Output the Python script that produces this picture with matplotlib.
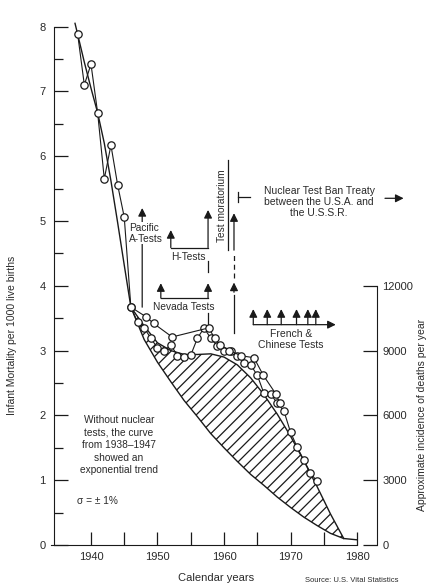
import matplotlib.pyplot as plt

plt.rcParams["font.family"] = ["Liberation Sans", "DejaVu Sans"]
plt.rcParams["hatch.linewidth"] = 0.9

# observed infant mortality, annual points (per 1000 live births, chart scale)
years_a = [1938, 1939, 1940, 1941, 1942, 1943, 1944, 1945, 1946, 1947, 1948,
           1949, 1950, 1951, 1952, 1953, 1954, 1955, 1956, 1957, 1958, 1959,
           1960, 1961, 1962, 1963, 1964, 1965, 1966, 1967, 1968, 1969, 1970,
           1971, 1972, 1973, 1974]
rate_a = [7.88, 7.10, 7.42, 6.67, 5.65, 6.17, 5.56, 5.06, 3.67, 3.44, 3.35,
          3.19, 3.04, 2.99, 3.09, 2.92, 2.90, 2.93, 3.19, 3.35, 3.19, 3.07,
          2.99, 2.99, 2.92, 2.81, 2.78, 2.62, 2.34, 2.33, 2.19, 2.07, 1.74,
          1.51, 1.31, 1.11, 0.98]

# second set of points (upper polyline)
years_b = [1946.0, 1948.3, 1949.4, 1952.2, 1957.7, 1958.6, 1959.4, 1960.8,
           1962.6, 1964.5, 1965.9, 1967.8, 1968.4]
rate_b = [3.67, 3.52, 3.42, 3.21, 3.35, 3.19, 3.09, 3.00, 2.92, 2.89, 2.62,
          2.33, 2.19]

# exponential trend 1938-1947 and its extension
trend_years = [1937.6, 1939, 1940, 1941, 1942, 1943, 1944, 1945]
trend_rate = [8.05, 7.45, 7.05, 6.67, 6.20, 5.62, 4.98, 4.32]
band_years = [1946, 1948, 1950, 1952, 1954, 1956, 1958, 1960, 1962, 1964,
              1966, 1968, 1970, 1972, 1974, 1976, 1978]
band_low = [3.67, 3.17, 2.82, 2.52, 2.23, 1.98, 1.72, 1.50, 1.29, 1.09,
            0.92, 0.74, 0.58, 0.43, 0.30, 0.18, 0.10]
band_high = [3.67, 3.38, 3.12, 3.00, 2.94, 2.94, 2.95, 2.90, 2.78, 2.58,
             2.32, 2.02, 1.68, 1.30, 0.90, 0.48, 0.10]
tail_years = [1978, 1980]
tail_rate = [0.10, 0.08]

# French & Chinese test years
fc_years = [1964.4, 1966.5, 1968.6, 1970.9, 1972.6, 1973.8]

ink = "#1a1a1a"
txt = "#2a2a2a"

fig = plt.figure(figsize=(4.33, 5.86), dpi=100)
ax = fig.add_axes([54 / 433, 41 / 586, 323 / 433, 531.4 / 586])
ax.set_xlim(1934.44, 1983.0)
ax.set_ylim(0, 8.2)

# hatched excess-mortality area
ax.fill_between(band_years, band_low, band_high, facecolor="none",
                edgecolor=ink, hatch="///", linewidth=0, zorder=1)
ax.plot(trend_years + band_years + tail_years[1:],
        trend_rate + band_low + tail_rate[1:], color=ink, lw=1.0, zorder=4)
ax.plot(band_years, band_high, color=ink, lw=1.0, zorder=4)

ax.plot(years_a, rate_a, color=ink, lw=0.8, marker="o", ms=5.3,
        mfc="white", mec=ink, mew=0.9, zorder=5)
ax.plot(years_b, rate_b, color=ink, lw=0.8, marker="o", ms=5.3,
        mfc="white", mec=ink, mew=0.9, zorder=5)

arrow = dict(arrowstyle="-|>", color=ink, lw=0.9, mutation_scale=12,
             shrinkA=0, shrinkB=0)


def up(x, y0, y1):
    ax.annotate("", xy=(x, y1), xytext=(x, y0), arrowprops=arrow, zorder=2)


box = dict(facecolor="white", edgecolor="none", pad=0.3)

# Pacific A-tests
up(1947.7, 3.67, 5.20)
ax.text(1945.7, 4.81, "Pacific\nA-Tests", fontsize=7.3, color=txt,
        ha="left", va="center", linespacing=1.1, bbox=box, zorder=3)

# H-tests
up(1952.0, 4.59, 4.86)
up(1957.6, 4.59, 5.17)
ax.plot([1952.0, 1957.6], [4.59, 4.59], color=ink, lw=0.9, zorder=2)
ax.plot([1957.6, 1957.6], [4.22, 4.38], color=ink, lw=0.9, zorder=2)
ax.text(1954.6, 4.44, "H-Tests", fontsize=7.3, color=txt, ha="center",
        va="center", zorder=3)

# Nevada tests
up(1950.5, 3.81, 4.04)
up(1957.6, 3.81, 4.04)
ax.plot([1950.5, 1957.6], [3.81, 3.81], color=ink, lw=0.9, zorder=2)
ax.plot([1957.6, 1957.6], [3.38, 3.58], color=ink, lw=0.9, zorder=2)
ax.text(1954.0, 3.67, "Nevada Tests", fontsize=7.3, color=txt, ha="center",
        va="center", zorder=3)

# test moratorium
ax.plot([1960.6, 1960.6], [4.55, 5.94], color=ink, lw=0.9)
ax.text(1959.75, 5.23, "Test moratorium", fontsize=7.3, color=txt,
        rotation=90, ha="center", va="center")
up(1961.5, 4.55, 5.12)
ax.plot([1961.5, 1961.5], [4.12, 4.47], color=ink, lw=0.9,
        linestyle=(0, (4, 3)))
up(1961.5, 3.90, 4.05)
ax.plot([1961.5, 1961.5], [3.27, 3.86], color=ink, lw=0.9)

# test ban treaty
ax.plot([1962.15, 1962.15], [5.29, 5.45], color=ink, lw=0.9)
ax.plot([1962.15, 1963.9], [5.37, 5.37], color=ink, lw=0.9)
ax.text(1974.3, 5.29, "Nuclear Test Ban Treaty\nbetween the U.S.A. and\n"
        "the U.S.S.R.", fontsize=7.5, color=txt, ha="center", va="center",
        linespacing=1.15)
ax.annotate("", xy=(1987.0, 5.35), xytext=(1984.2, 5.35), arrowprops=arrow,
            annotation_clip=False)

# French & Chinese tests
for yr in fc_years:
    up(yr, 3.40, 3.64)
ax.annotate("", xy=(1976.8, 3.40), xytext=(fc_years[0], 3.40),
            arrowprops=arrow)
ax.text(1970.1, 3.17, "French &\nChinese Tests", fontsize=7.5, color=txt,
        ha="center", va="center", linespacing=1.15)

# explanatory note
ax.text(1944.2, 1.54, "Without nuclear\ntests, the curve\nfrom 1938\u20131947\n"
        "showed an\nexponential trend", fontsize=7.3, color=txt, ha="center",
        va="center", linespacing=1.3)
ax.text(1937.9, 0.68, "\u03c3 = \u00b1 1%", fontsize=7.3, color=txt,
        ha="left", va="center")

# axes styling
for s in ["top", "right"]:
    ax.spines[s].set_visible(False)
ax.spines["left"].set_bounds(0, 8)
ax.spines["bottom"].set_bounds(1934.0, 1980)
ax.spines["left"].set_color(ink)
ax.spines["bottom"].set_color(ink)
ax.set_yticks(range(0, 9))
ax.set_yticklabels([str(v) for v in range(0, 9)])
ax.set_yticks([v + 0.5 for v in range(0, 8)], minor=True)
ax.set_xticks([1940, 1950, 1960, 1970, 1980])
ax.set_xticks([1945, 1955, 1965, 1975], minor=True)
ax.tick_params(axis="y", which="major", direction="in", length=10, width=0.9,
               pad=6, labelsize=8, colors=ink, labelcolor=txt)
ax.tick_params(axis="y", which="minor", direction="in", length=6.5,
               width=0.9, colors=ink)
ax.tick_params(axis="x", which="both", direction="in", length=9.5, width=0.9,
               pad=5, labelsize=8, colors=ink, labelcolor=txt)

ax2 = ax.twinx()
ax2.set_ylim(0, 8.2 * 3000)
for s in ["top", "left", "bottom"]:
    ax2.spines[s].set_visible(False)
ax2.spines["right"].set_bounds(0, 12000)
ax2.spines["right"].set_color(ink)
ax2.set_yticks([0, 3000, 6000, 9000, 12000])
ax2.tick_params(axis="y", direction="in", length=10, width=0.9, pad=4,
                labelsize=8, colors=ink, labelcolor=txt)

fig.text(12 / 433, 1 - 335 / 586, "Infant Mortality per 1000 live births",
         rotation=90, ha="center", va="center", fontsize=7.5, color=txt)
fig.text(422 / 433, 1 - 415 / 586, "Approximate incidence of deaths per year",
         rotation=90, ha="center", va="center", fontsize=7.5, color=txt)
fig.text(216 / 433, 1 - 578 / 586, "Calendar years", ha="center",
         va="center", fontsize=8, color=txt)
fig.text(352 / 433, 1 - 581 / 586, "Source: U.S. Vital Statistics",
         ha="center", va="center", fontsize=5.5, color=txt)

fig.savefig("out.png", dpi=100)
